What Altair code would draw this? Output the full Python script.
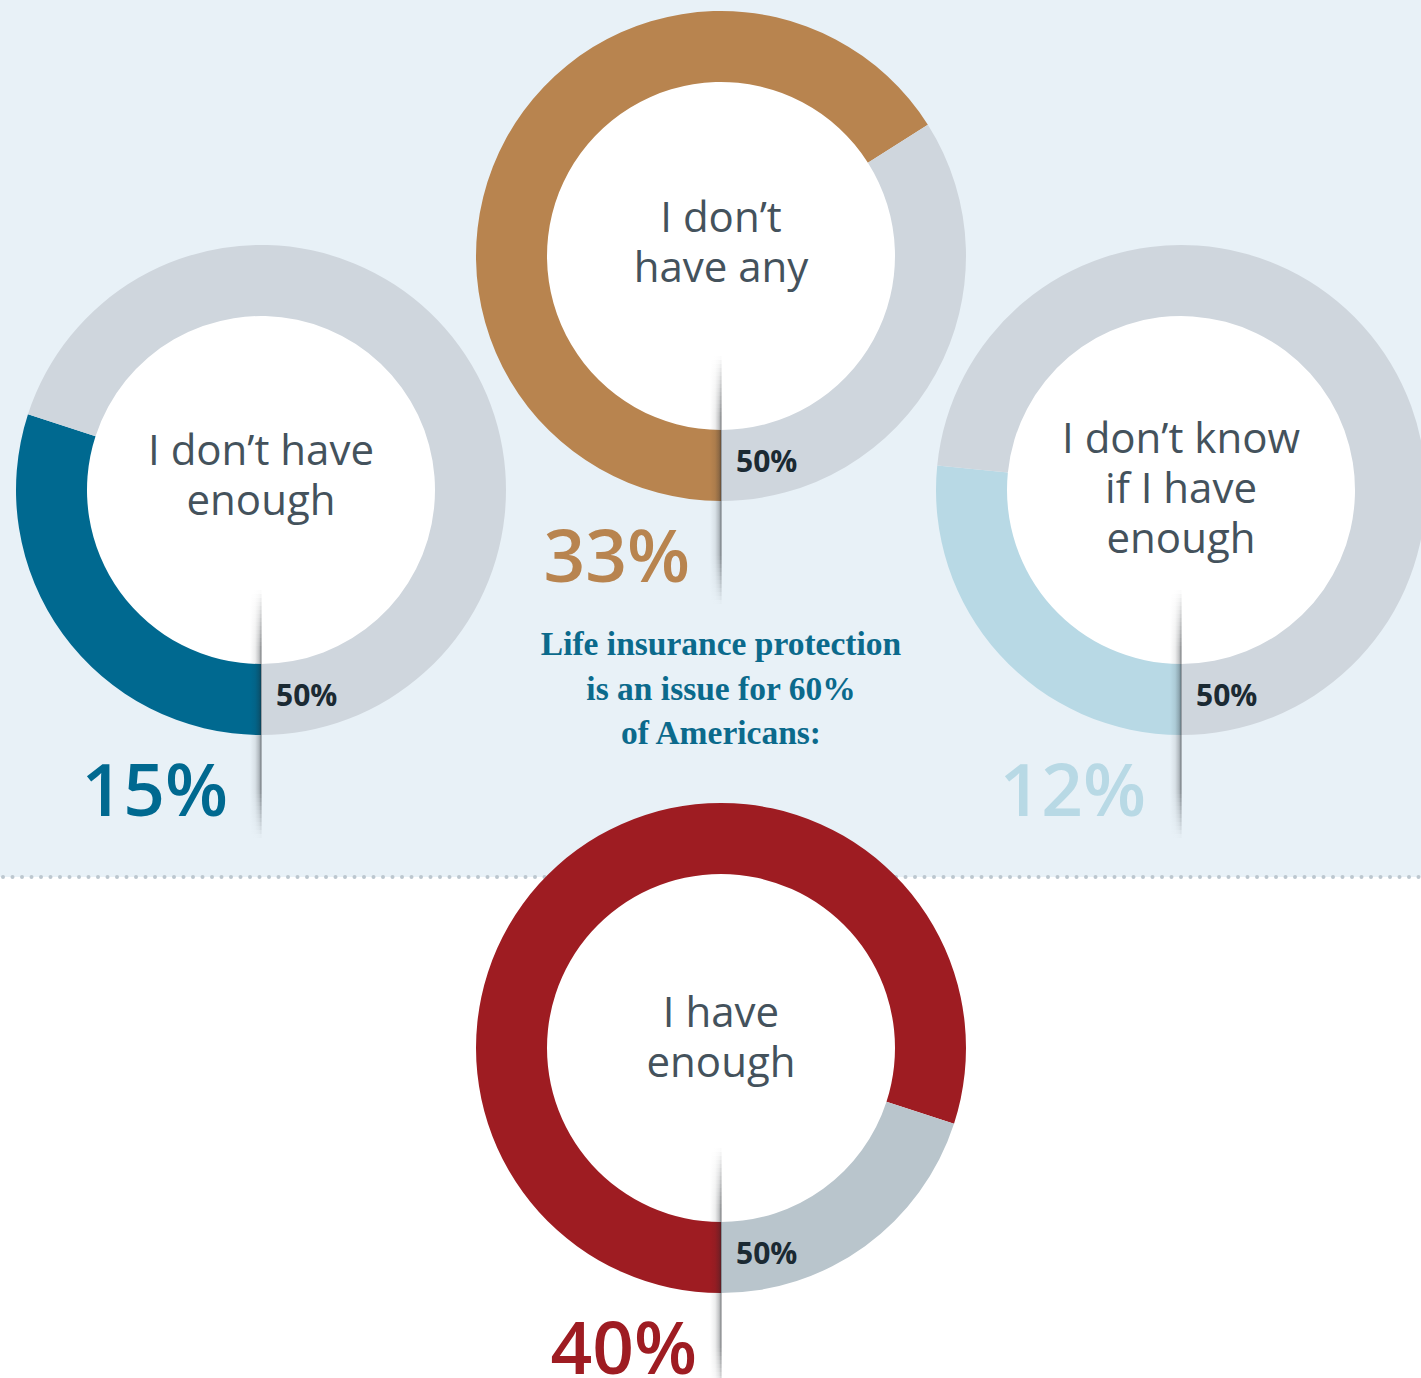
import math
import altair as alt
import pandas as pd

# ---- data ----
categories = ["I don’t\nhave any", "I don’t have\nenough", "I don’t know\nif I have\nenough", "I have\nenough"]
values = [33, 15, 12, 40]
# arc extents as drawn in the reference (the 12% ring is drawn slightly longer)
arc_values = [33, 15, 13.3, 40]
scale_max = 50
value_labels = ["33%", "15%", "12%", "40%"]
marker_label = "50%"
headline = "Life insurance protection\nis an issue for 60%\nof Americans:"

# ---- styles / layout ----
colors = ["#b8844f", "#006990", "#b8d9e5", "#9e1c22"]
rest_colors = ["#cfd6dd", "#cfd6dd", "#cfd6dd", "#b9c5cc"]
centers_x = [721, 261, 1181, 721]
centers_y = [256, 490, 490, 1048]
label_y = [232, 465, 453, 1027]
big_dx = [-31, -33, -35, -24]
W, H = 1421, 1378
BAND = 877
R_OUT, R_IN = 245, 174
SANS = "Open Sans"
SERIF = "Liberation Serif"

rows = []
for i, cat in enumerate(categories):
    rows.append(dict(cat=cat, start=0, end=arc_values[i], color=colors[i], cx=centers_x[i], cy=centers_y[i]))
    rows.append(dict(cat=cat, start=arc_values[i], end=scale_max, color=rest_colors[i], cx=centers_x[i], cy=centers_y[i]))
arcs_df = pd.DataFrame(rows)

donuts_df = pd.DataFrame(dict(
    cat=categories, value=values, vlabel=value_labels, color=colors,
    cx=centers_x, cy=centers_y, ly=label_y, bdx=big_dx, marker=[marker_label] * 4,
))

# fold-shadow geometry (style): vertical opacity profile in small steps
seg_rows = []
top, full1, full2, bot, step = 100, 160, 300, 348, 4
for i in range(4):
    y = top
    while y < bot:
        mid = y + step / 2
        if mid < full1:
            op = (mid - top) / (full1 - top)
        elif mid > full2:
            op = (bot - mid) / (bot - full2)
        else:
            op = 1.0
        seg_rows.append(dict(cx=centers_x[i], y1=centers_y[i] + y, y2=centers_y[i] + y + step, op=op))
        y += step
seg_df = pd.DataFrame(seg_rows)

X = lambda f: alt.X(f, type="quantitative", scale=None, axis=None)
Y = lambda f: alt.Y(f, type="quantitative", scale=None, axis=None)

bg = alt.Chart(pd.DataFrame({"a": [0]})).mark_rect(color="#e8f1f7").encode(
    x=alt.value(0), x2=alt.value(W), y=alt.value(0), y2=alt.value(BAND)
)
dots = alt.Chart(pd.DataFrame({"a": [0]})).mark_rule(
    color="#bcc7cf", strokeWidth=4, strokeDash=[0, 9.5], strokeCap="round"
).encode(x=alt.value(3), x2=alt.value(W), y=alt.value(BAND))

inner = alt.Chart(donuts_df).mark_arc(
    theta=0, theta2=2 * math.pi, outerRadius=R_IN + 1, innerRadius=0, color="white"
).encode(x=X("cx"), y=Y("cy"))

rings = alt.Chart(arcs_df).mark_arc(outerRadius=R_OUT, innerRadius=R_IN).encode(
    x=X("cx"), y=Y("cy"),
    theta=alt.Theta("start:Q", scale=alt.Scale(domain=[0, scale_max], range=[math.pi, 3 * math.pi])),
    theta2="end:Q",
    color=alt.Color("color:N", scale=None),
)

shade = alt.LinearGradient(
    gradient="linear", x1=0, x2=1, y1=0, y2=0,
    stops=[alt.GradientStop(color="rgba(30,35,40,0)", offset=0),
           alt.GradientStop(color="rgba(30,35,40,0.08)", offset=0.45),
           alt.GradientStop(color="rgba(30,35,40,0.28)", offset=0.8),
           alt.GradientStop(color="rgba(20,25,30,0.6)", offset=1)],
)

shadow = alt.Chart(seg_df).transform_calculate(
    x1="datum.cx - 11", x2="datum.cx + 0.5"
).mark_rect(color=shade).encode(
    x=X("x1"), x2="x2", y=Y("y1"), y2="y2", opacity=alt.Opacity("op:Q", scale=None)
)

labels = alt.Chart(donuts_df).mark_text(
    font=SANS, fontSize=42, color="#44525c", align="center", baseline="alphabetic",
    lineBreak="\n", lineHeight=50,
).encode(x=X("cx"), y=Y("ly"), text="cat:N")

big = alt.Chart(donuts_df).transform_calculate(
    tx="datum.cx + datum.bdx", ty="datum.cy + 326"
).mark_text(font=SANS, fontSize=73, fontWeight=600, align="right", baseline="alphabetic").encode(
    x=X("tx"), y=Y("ty"), text="vlabel:N", color=alt.Color("color:N", scale=None)
)

marks50 = alt.Chart(donuts_df).transform_calculate(
    tx="datum.cx + 15", ty="datum.cy + 216"
).mark_text(font=SANS, fontSize=30, fontWeight="bold", color="#1b2a33", align="left",
            baseline="alphabetic").encode(x=X("tx"), y=Y("ty"), text="marker:N")

head = alt.Chart(pd.DataFrame({"t": [headline]})).mark_text(
    font=SERIF, fontSize=33.5, fontWeight="bold", color="#0b6a8c", align="center",
    baseline="alphabetic", lineBreak="\n", lineHeight=44.5,
).encode(x=alt.value(721), y=alt.value(655), text="t:N")

chart = alt.layer(bg, dots, inner, rings, shadow, labels, big, marks50, head).properties(
    width=W, height=H, autosize=alt.AutoSizeParams(type="none"), padding=0, background="white"
).configure_view(stroke=None)

chart.save("out.html", embed_options={"renderer": "svg", "actions": False})
